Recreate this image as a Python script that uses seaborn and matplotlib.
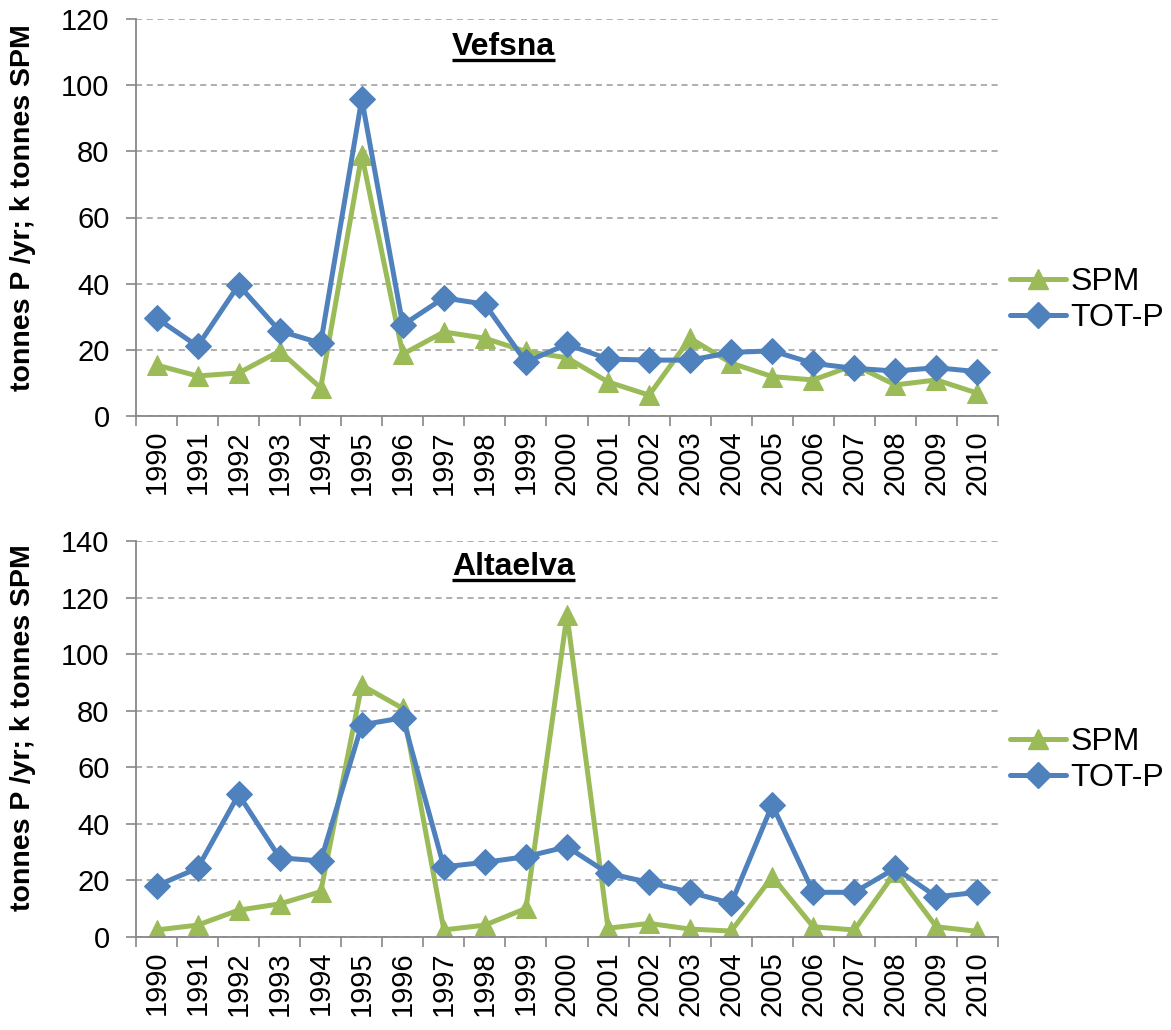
import matplotlib
matplotlib.use("Agg")
import matplotlib.pyplot as plt
import seaborn as sns
import pandas as pd
from matplotlib.lines import Line2D

years = [str(y) for y in range(1990, 2011)]

vefsna_spm = [15.4, 12.1, 13.0, 19.6, 8.5, 78.9, 18.7, 25.4, 23.5, 19.5, 17.6,
              10.3, 6.3, 23.5, 16.0, 11.9, 10.9, 15.4, 9.4, 10.9, 6.9]
vefsna_totp = [29.6, 21.1, 39.6, 25.7, 22.0, 95.8, 27.5, 35.7, 33.8, 16.3, 21.7,
               17.2, 16.9, 16.9, 19.2, 19.7, 15.9, 14.4, 13.6, 14.6, 13.4]

alta_spm = [2.5, 4.2, 9.5, 11.7, 16.0, 89.0, 80.8, 2.5, 4.2, 10.1, 113.8,
            3.1, 4.8, 2.8, 2.1, 21.3, 3.6, 2.5, 22.9, 3.6, 2.0]
alta_totp = [18.1, 24.3, 50.4, 28.0, 26.9, 75.0, 77.5, 24.8, 26.4, 28.4, 31.9,
             22.5, 19.3, 15.8, 11.9, 46.7, 15.8, 15.8, 24.3, 14.2, 15.8]

series_names = ["SPM", "TOT-P"]
colors = {"SPM": "#9BBB59", "TOT-P": "#4F81BD"}
markers = {"SPM": "^", "TOT-P": "D"}
msizes = {"SPM": 15, "TOT-P": 13}

sns.set_theme(style="white")
plt.rcParams["font.family"] = ["Liberation Sans", "DejaVu Sans"]
plt.rcParams["text.color"] = "black"
plt.rcParams["xtick.color"] = "black"
plt.rcParams["ytick.color"] = "black"
plt.rcParams["axes.labelcolor"] = "black"

fig = plt.figure(figsize=(11.71, 10.30), dpi=100)
W, H = 1171, 1030

def make_axes(top, bottom, left=136, right=998):
    return fig.add_axes([left / W, 1 - bottom / H, (right - left) / W, (bottom - top) / H])

ax1 = make_axes(19, 416)
ax2 = make_axes(541, 937)

# (axes, title, spm, totp, ymax, title baseline px, legend centre px, label centre frac)
panels = [
    (ax1, "Vefsna", vefsna_spm, vefsna_totp, 120, 55, 300, 0.524),
    (ax2, "Altaelva", alta_spm, alta_totp, 140, 575, 760, 0.528),
]

titles = []
for ax, name, spm, totp, ymax, tbase, lcy, lab_y in panels:
    df = pd.DataFrame({"year": years * 2,
                       "value": spm + totp,
                       "series": ["SPM"] * len(years) + ["TOT-P"] * len(years)})
    df["xpos"] = list(range(len(years))) * 2
    for s in series_names:
        sub = df[df["series"] == s]
        sns.lineplot(data=sub, x="xpos", y="value", ax=ax, color=colors[s],
                     marker=markers[s], markersize=msizes[s], linewidth=3.6,
                     markeredgecolor=colors[s], label=s, legend=False)
    ax.set_xlim(-0.5, len(years) - 0.5)
    ax.set_ylim(0, ymax)
    ax.set_yticks(range(0, ymax + 1, 20))
    ax.set_xticks(range(len(years)))
    ax.set_xticklabels(years, rotation=90, fontsize=21)
    ax.set_xticks([i - 0.5 for i in range(len(years) + 1)], minor=True)
    ax.tick_params(axis="x", which="major", length=0, pad=10)
    ax.tick_params(axis="x", which="minor", length=7, width=1.2, color="#888888",
                   direction="out", bottom=True)
    ax.tick_params(axis="y", which="major", length=7, width=1.2, color="#888888",
                   direction="out", left=True, labelsize=21, pad=12)
    ax.yaxis.grid(True, linestyle=(0, (4, 3)), color="#999999", linewidth=1.1)
    ax.set_axisbelow(True)
    for sp in ["top", "right"]:
        ax.spines[sp].set_visible(False)
    for sp in ["left", "bottom"]:
        ax.spines[sp].set_color("#888888")
        ax.spines[sp].set_linewidth(1.3)
    ax.set_xlabel("")
    ax.set_ylabel("tonnes P /yr; k tonnes SPM", fontsize=20.5, fontweight="bold")
    ax.yaxis.set_label_coords((36 - 136) / 862, lab_y)
    y0px, y1px = (416, 19) if ax is ax1 else (937, 541)
    tb_frac = (y0px - tbase) / (y0px - y1px)
    t = ax.text((452 - 136) / 862, tb_frac, name, transform=ax.transAxes,
                ha="left", va="baseline", fontsize=23, fontweight="bold")
    titles.append(t)
    handles = [Line2D([0], [0], color=colors[s], marker=markers[s], markersize=msizes[s],
                      linewidth=3.6, markeredgecolor=colors[s]) for s in series_names]
    fig.legend(handles, series_names, loc="center left",
               bbox_to_anchor=(1010 / W, 1 - lcy / H), bbox_transform=fig.transFigure,
               frameon=False, fontsize=23, handlelength=1.75, handletextpad=0.15,
               labelspacing=0.2, borderpad=0, borderaxespad=0)

fig.canvas.draw()
renderer = fig.canvas.get_renderer()
inv = fig.transFigure.inverted()
for t in titles:
    bb = t.get_window_extent(renderer=renderer)
    x0 = inv.transform((bb.x0, 0))[0]
    x1 = inv.transform((bb.x1, 0))[0]
    # baseline position in figure coords
    base = t.get_transform().transform(t.get_position())
    yb = inv.transform((0, base[1] - 4.5))[1]
    fig.add_artist(Line2D([x0, x1], [yb, yb], transform=fig.transFigure,
                          color="black", linewidth=2.4, solid_capstyle="butt"))

fig.savefig("out.png", dpi=100)
